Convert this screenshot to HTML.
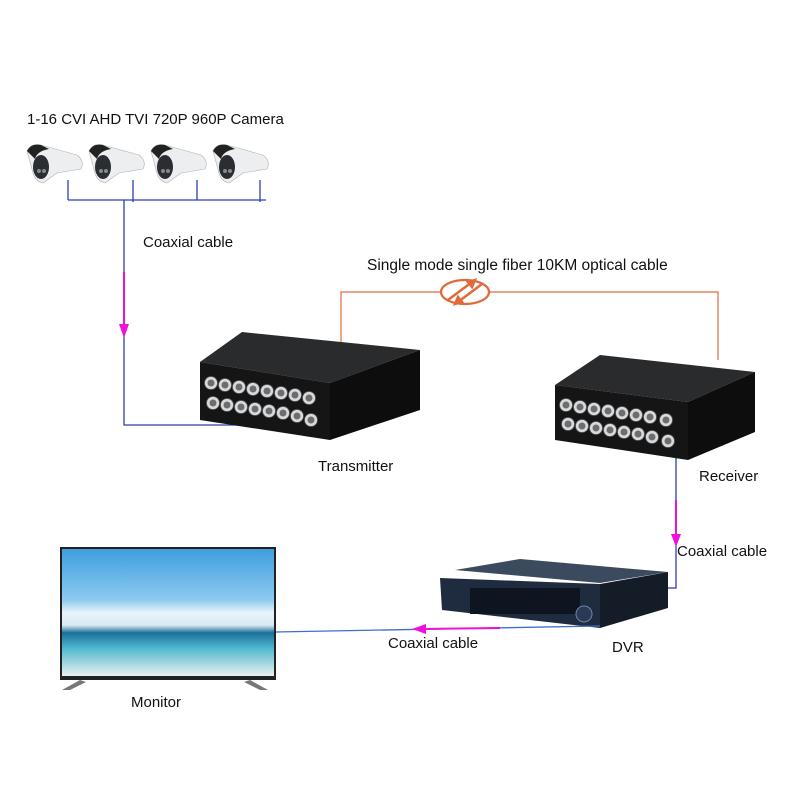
<!DOCTYPE html>
<html><head><meta charset="utf-8"><style>
html,body{margin:0;padding:0;background:#fff}
svg{display:block}
text{font-family:"Liberation Sans",sans-serif;font-size:15px;fill:#111}
</style></head><body>
<svg width="800" height="800" viewBox="0 0 800 800" xmlns="http://www.w3.org/2000/svg">
<defs>
<linearGradient id="sky" x1="0" y1="0" x2="0" y2="1">
<stop offset="0" stop-color="#3f9ede"/><stop offset="0.4" stop-color="#8ccaf0"/><stop offset="0.5" stop-color="#e8f4fa"/><stop offset="0.6" stop-color="#d7e9f3"/><stop offset="0.66" stop-color="#1d6f9a"/><stop offset="0.78" stop-color="#4fb7cf"/><stop offset="1" stop-color="#e9f1ef"/>
</linearGradient>
<g id="cam">
<path d="M0,8 Q4,0 14,2 L50,12 Q58,18 54,26 L30,30 L16,40 Q8,38 6,30 Z" fill="#eceef0" stroke="#b0b3b6" stroke-width="0.6"/>
<path d="M0,8 Q4,0 14,2 L22,6 Q10,8 8,16 Z" fill="#222"/>
<ellipse cx="14" cy="24" rx="8" ry="12" fill="#2a2d31"/>
<circle cx="12" cy="28" r="2" fill="#888"/><circle cx="17" cy="28" r="2" fill="#888"/>
</g>
<g id="port">
<circle r="6.5" fill="#d9dadb" stroke="#555" stroke-width="0.8"/>
<circle r="3.5" fill="#6b6e70"/>
</g>
</defs>

<text x="27" y="124">1-16 CVI AHD TVI 720P 960P Camera</text>
<use href="#cam" x="27" y="143"/>
<use href="#cam" x="89" y="143"/>
<use href="#cam" x="151" y="143"/>
<use href="#cam" x="213" y="143"/>

<g stroke="#2b3fb0" stroke-width="1.3" fill="none">
<path d="M68,180 V200 M133,180 V202 M197,180 V200 M260,180 V202 M68,200 H266"/>
<path d="M124,200 V425 H275"/>
<path d="M676,458 V588 H668"/>
</g>
<text x="143" y="247">Coaxial cable</text>
<path d="M124,272 V330" stroke="#ee10dc" stroke-width="2"/>
<path d="M119,324 L124,338 L129,324 Z" fill="#ee10dc"/>

<text x="367" y="270" style="font-size:15.5px">Single mode single fiber 10KM optical cable</text>
<path d="M341,342 V292 H718 V360" stroke="#e06a3a" stroke-width="1.2" fill="none"/>
<ellipse cx="465" cy="292" rx="24" ry="12" fill="#fff" stroke="#e06a3a" stroke-width="2.2"/>
<path d="M448,300 L472,282 M468,282 L475,280 L472,287 Z M482,284 L458,302 M462,302 L455,304 L458,297 Z" stroke="#e06a3a" stroke-width="2.5" fill="#e06a3a"/>

<polygon points="242,332 420,350 330,383 200,362" fill="#2a2b2d"/>
<polygon points="200,362 330,383 330,440 200,420" fill="#151516"/>
<polygon points="330,383 420,350 420,410 330,440" fill="#0d0d0e"/>
<g>
<use href="#port" x="211" y="383"/><use href="#port" x="225" y="385"/><use href="#port" x="239" y="387"/><use href="#port" x="253" y="389"/><use href="#port" x="267" y="391"/><use href="#port" x="281" y="393"/><use href="#port" x="295" y="395"/><use href="#port" x="309" y="398"/>
<use href="#port" x="213" y="403"/><use href="#port" x="227" y="405"/><use href="#port" x="241" y="407"/><use href="#port" x="255" y="409"/><use href="#port" x="269" y="411"/><use href="#port" x="283" y="413"/><use href="#port" x="297" y="416"/><use href="#port" x="311" y="420"/>
</g>
<text x="318" y="471">Transmitter</text>

<polygon points="600,355 755,372 688,402 555,385" fill="#2a2b2d"/>
<polygon points="555,385 688,402 688,460 555,440" fill="#151516"/>
<polygon points="688,402 755,372 755,432 688,460" fill="#0d0d0e"/>
<g>
<use href="#port" x="566" y="405"/><use href="#port" x="580" y="407"/><use href="#port" x="594" y="409"/><use href="#port" x="608" y="411"/><use href="#port" x="622" y="413"/><use href="#port" x="636" y="415"/><use href="#port" x="650" y="417"/><use href="#port" x="666" y="420"/>
<use href="#port" x="568" y="424"/><use href="#port" x="582" y="426"/><use href="#port" x="596" y="428"/><use href="#port" x="610" y="430"/><use href="#port" x="624" y="432"/><use href="#port" x="638" y="434"/><use href="#port" x="652" y="437"/><use href="#port" x="668" y="441"/>
</g>
<text x="699" y="481">Receiver</text>

<path d="M676,500 V540" stroke="#ee10dc" stroke-width="2"/>
<path d="M671,534 L676,547 L681,534 Z" fill="#ee10dc"/>
<text x="677" y="556">Coaxial cable</text>

<polygon points="455,570 520,559 668,572 600,583" fill="#3b4a5e"/>
<polygon points="440,578 600,584 600,628 442,610" fill="#1f2c40"/>
<polygon points="600,584 668,572 668,608 600,628" fill="#141c28"/>
<rect x="470" y="588" width="110" height="26" fill="#0e1520"/>
<circle cx="584" cy="614" r="8" fill="#2a3a55" stroke="#6b85a8"/>

<path d="M275,632 L600,626" stroke="#3d6fc8" stroke-width="1.3"/>
<path d="M418,629 L500,628" stroke="#ee10dc" stroke-width="2"/>
<path d="M426,624 L412,629 L426,634 Z" fill="#ee10dc"/>
<text x="388" y="648">Coaxial cable</text>
<text x="612" y="652">DVR</text>

<rect x="60" y="547" width="216" height="133" fill="#222"/>
<rect x="62" y="549" width="212" height="127" fill="url(#sky)"/>
<path d="M80,680 L62,690 L70,690 L86,682 Z M250,680 L268,690 L260,690 L244,682 Z" fill="#777"/>
<text x="131" y="707">Monitor</text>
</svg>
</body></html>
